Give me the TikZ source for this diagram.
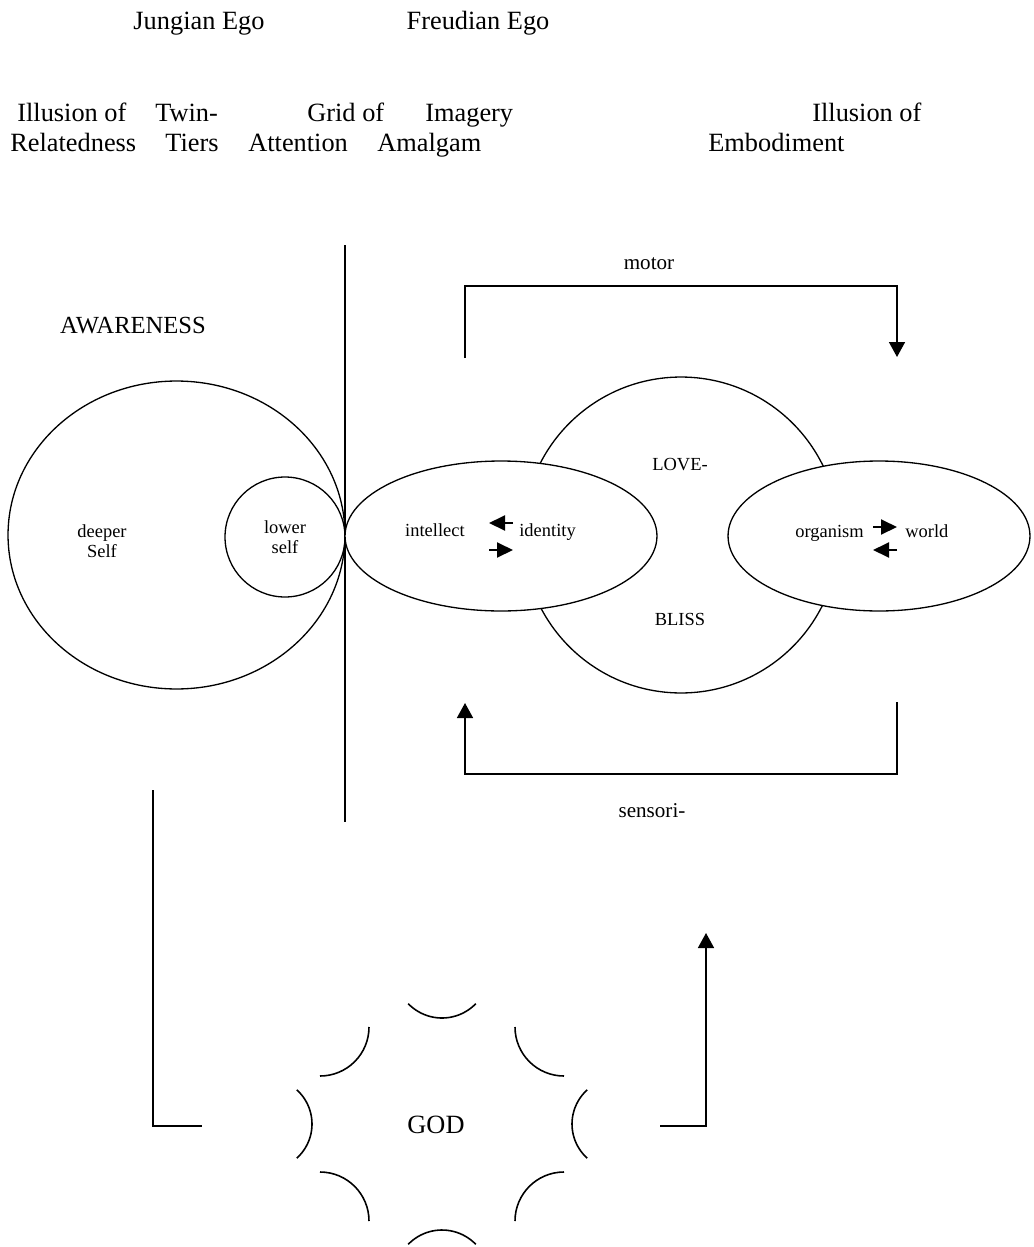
\documentclass[tikz,border=0pt]{standalone}
\usepackage{fontspec}
\setmainfont{Liberation Serif}
\usetikzlibrary{shapes.geometric,arrows.meta,positioning}

\tikzset{
	head/.style={font=\fontsize{15}{18}\selectfont, inner sep=0pt},
	tag/.style={font=\fontsize{10.5}{11.4}\selectfont, inner sep=0pt},
	loopname/.style={font=\fontsize{12}{14}\selectfont, inner sep=0pt},
	ring/.style={draw, line width=0.75pt, inner sep=0pt},
	lid/.style={ring, ellipse, fill=white, minimum height=3cm},
	loopline/.style={line width=0.9pt},
	loopflow/.style={loopline, -{Triangle[length=0.3cm,width=0.32cm]}},
	pointer/.style={line width=1.1pt, -{Triangle[length=0.32cm,width=0.3cm]}}
}

\begin{document}
\begin{tikzpicture}[x=0.02cm, y=-0.02cm]
	\useasboundingbox (0,0) rectangle (1034,1247);

	\node[head, anchor=base] (jung) at (199,30) {Jungian Ego};
	\node[head, anchor=base] (freud) at (478,30) {Freudian Ego};
	\node[head, anchor=base west] (relA) at (17,121) {Illusion of};
	\node[head, anchor=base west] (relB) at (10,152) {Relatedness};
	\node[head, anchor=base west] (twinA) at (155,121) {Twin-};
	\node[head, anchor=base west] (twinB) at (165,152) {Tiers};
	\node[head, anchor=base west] (gridA) at (307,121) {Grid of};
	\node[head, anchor=base west] (gridB) at (248,152) {Attention};
	\node[head, anchor=base west] (imgA) at (425,121) {Imagery};
	\node[head, anchor=base west] (imgB) at (377,152) {Amalgam};
	\node[head, anchor=base west] (embA) at (812,121) {Illusion of};
	\node[head, anchor=base west] (embB) at (708,152) {Embodiment};
	\node[head, font=\fontsize{14}{16}\selectfont, anchor=base] (aware) at (133,333) {AWARENESS};

	\coordinate (cutT) at (345,245);
	\coordinate (cutB) at (345,822);
	\draw[loopline] (cutT) -- (cutB);

	\node[ring, ellipse, minimum width=6.74cm, minimum height=6.16cm] (self) at (176.5,535) {};
	\node[tag, align=center] (deeper) at (102,541) {deeper\\Self};
	\node[ring, circle, minimum size=2.4cm, tag, align=center] (lower) at (285,537) {lower\\self};

	\node[ring, circle, minimum size=6.32cm] (bliss) at (681,535) {};
	\node[lid, minimum width=6.24cm] (mind) at (501,536) {};
	\node[lid, minimum width=6.04cm] (body) at (879,536) {};
	\node[tag, anchor=base] (love) at (680,470) {LOVE-};
	\node[tag, anchor=base] (blisstxt) at (680,625) {BLISS};

	\node[tag, anchor=base east] (intellect) at (465,536) {intellect};
	\node[tag, anchor=base west] (identity) at (519,536) {identity};
	\draw[pointer] (identity.base west) ++(-6,-13) -- ++(-24,0);
	\draw[pointer] (identity.base west) ++(-30,14) -- ++(24,0);
	\node[tag, anchor=base east] (organism) at (864,537) {organism};
	\node[tag, anchor=base west] (world) at (905,537) {world};
	\draw[pointer] (world.base west) ++(-32,-10) -- ++(24,0);
	\draw[pointer] (world.base west) ++(-8,13) -- ++(-24,0);

	\node[loopname, anchor=base] (motor) at (649,269) {motor};
	\coordinate (motL) at (465,358);
	\coordinate (motR) at (897,357);
	\draw[loopflow] (motL) -- ++(0,-72) -| (motR);

	\node[loopname, anchor=base] (sensori) at (652,817) {sensori-};
	\coordinate (senR) at (897,702);
	\coordinate (senL) at (465,703);
	\draw[loopflow] (senR) -- ++(0,72) -| (senL);

	\node[head, anchor=base] (god) at (436,1133) {GOD};
	\coordinate (core) at (442,1124);
	\foreach \dx/\dy/\a/\b/\r in {0/-153/44/136/47, 0/153/224/316/47, -176/0/-48/48/46, 176/0/132/228/46,
		-122/-97/0/90/49, 122/-97/90/180/49, -122/97/-90/0/49, 122/97/180/270/49}
		\draw[loopline] (core) ++(\dx,\dy) ++(\a:\r) arc (\a:\b:\r);

	\coordinate (leftT) at (153,790);
	\coordinate (godW) at (202,1126);
	\draw[loopline] (leftT) |- (godW);
	\coordinate (godE) at (660,1126);
	\coordinate (upT) at (706,933);
	\draw[loopflow] (godE) -| (upT);
\end{tikzpicture}
\end{document}
